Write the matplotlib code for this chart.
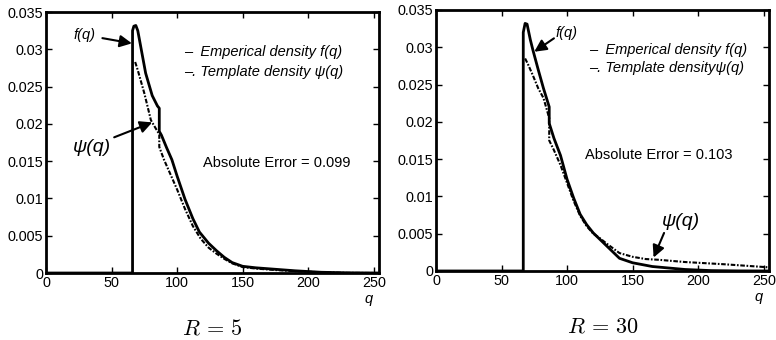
import numpy as np
import matplotlib
matplotlib.use("Agg")
import matplotlib.pyplot as plt

plt.rcParams['font.family'] = ['Liberation Sans', 'DejaVu Sans']
plt.rcParams['mathtext.fontset'] = 'cm'

# R = 5 panel
f5_q = [0, 66, 66, 67, 68.5, 70, 72, 76, 81, 85, 86.4, 86.4, 88, 92, 96, 100, 106, 112, 117, 124,
        130, 136, 142, 150, 160, 175, 190, 210, 230, 253]
f5 = [0, 0, 0.0325, 0.0331, 0.0332, 0.0325, 0.0306, 0.0268, 0.0238, 0.0224, 0.0221, 0.019, 0.0185,
      0.0168, 0.0152, 0.013, 0.0099, 0.0073, 0.0055, 0.004, 0.003, 0.0021, 0.0014, 0.0009,
      0.0007, 0.0005, 0.0003, 0.0001, 0.00003, 0]
psi5_q = [68, 70, 75, 80, 85, 86.4, 86.4, 90, 95, 100, 106, 112, 118, 124, 130, 136, 142,
          150, 160, 175, 190, 210, 230, 253]
psi5 = [0.0283, 0.0272, 0.0241, 0.0205, 0.019, 0.0186, 0.0169, 0.0152, 0.0132, 0.0112,
        0.0086, 0.0063, 0.0046, 0.0034, 0.0026, 0.0019, 0.0013, 0.0008, 0.0006, 0.0004,
        0.00025, 0.0001, 0.00002, 0]

# R = 30 panel
f30_q = [0, 66.6, 66.6, 68, 69.5, 72, 74, 78, 82, 86.4, 86.4, 90, 95, 100, 105, 110, 115,
         120, 130, 140, 150, 165, 190, 210, 230, 253]
f30 = [0, 0, 0.032, 0.0332, 0.0331, 0.031, 0.0296, 0.027, 0.0245, 0.022, 0.0198, 0.0178,
       0.0155, 0.0123, 0.0098, 0.0076, 0.0062, 0.0051, 0.0034, 0.0017, 0.0011, 0.0006,
       0.0002, 0.00005, 0.00001, 0]
psi30_q = [68, 70, 74, 78, 82, 86.4, 86.4, 90, 95, 100, 105, 110, 115, 120, 125, 130, 140,
           150, 160, 170, 190, 220, 253]
psi30 = [0.0285, 0.0278, 0.0262, 0.0245, 0.0232, 0.0205, 0.0175, 0.0162, 0.0142, 0.0118,
         0.0094, 0.0074, 0.006, 0.005, 0.0044, 0.0037, 0.0024, 0.0019, 0.0016, 0.0015,
         0.0012, 0.0009, 0.0005]

yticks = [0, 0.005, 0.01, 0.015, 0.02, 0.025, 0.03, 0.035]
ylabels = ['0', '0.005', '0.01', '0.015', '0.02', '0.025', '0.03', '0.035']
xticks = [0, 50, 100, 150, 200, 250]

fig = plt.figure(figsize=(7.76, 3.4), dpi=100)
ax1 = fig.add_axes([0.0593, 0.197, 0.4291, 0.7676])
ax2 = fig.add_axes([0.5618, 0.203, 0.4291, 0.7676])

arrow = dict(arrowstyle='-|>', lw=1.5, color='k', mutation_scale=18, shrinkA=0, shrinkB=0)

for ax, fq, fv, pq, pv, title in [
        (ax1, f5_q, f5, psi5_q, psi5, r'$R\,=\,5$'),
        (ax2, f30_q, f30, psi30_q, psi30, r'$R\,=\,30$')]:
    ax.plot(fq, fv, color='k', lw=2.0, solid_joinstyle='round')
    ax.plot(pq, pv, color='k', lw=1.5, dashes=(2.2, 0.8, 0.8, 0.8))
    ax.set_xlim(0, 254)
    ax.set_ylim(0, 0.035)
    ax.set_xticks(xticks)
    ax.set_yticks(yticks)
    ax.set_yticklabels(ylabels)
    ax.tick_params(direction='in', top=True, right=True, length=4, width=1,
                   labelsize=10.4, pad=2)
    for s in ax.spines.values():
        s.set_linewidth(2.0)
    ax.text(0.97, -0.1, 'q', transform=ax.transAxes, fontsize=10.5,
            style='italic', ha='center', va='center')
    ax.text(0.5, -0.215, title, transform=ax.transAxes, fontsize=16,
            ha='center', va='center')

# left panel annotations
ax1.text(29.5, 0.0319, 'f(q)', fontsize=10.5, style='italic', ha='center', va='center')
ax1.annotate('', xy=(65.5, 0.0308), xytext=(43, 0.0315), arrowprops=arrow)
ax1.text(35, 0.0169, 'ψ(q)', fontsize=14, style='italic', ha='center', va='center')
ax1.annotate('', xy=(81, 0.0202), xytext=(52, 0.0182), arrowprops=arrow)
ax1.text(105, 0.0296, '–  Emperical density f(q)', fontsize=10.5, style='italic', va='center')
ax1.text(105, 0.0270, '–. Template density ψ(q)', fontsize=10.5, style='italic', va='center')
ax1.text(119.5, 0.0147, 'Absolute Error = 0.099', fontsize=10.5, va='center')

# right panel annotations
ax2.text(91, 0.0319, 'f(q)', fontsize=10.5, style='italic', va='center')
ax2.annotate('', xy=(75, 0.0294), xytext=(90, 0.0312), arrowprops=arrow)
ax2.text(117, 0.0296, '–  Emperical density f(q)', fontsize=10.5, style='italic', va='center')
ax2.text(117, 0.0272, '–. Template densityψ(q)', fontsize=10.5, style='italic', va='center')
ax2.text(114, 0.0155, 'Absolute Error = 0.103', fontsize=10.5, va='center')
ax2.text(187, 0.0066, 'ψ(q)', fontsize=14, style='italic', ha='center', va='center')
ax2.annotate('', xy=(166, 0.0018), xytext=(174, 0.0051), arrowprops=arrow)

fig.savefig('out.png', dpi=100)
